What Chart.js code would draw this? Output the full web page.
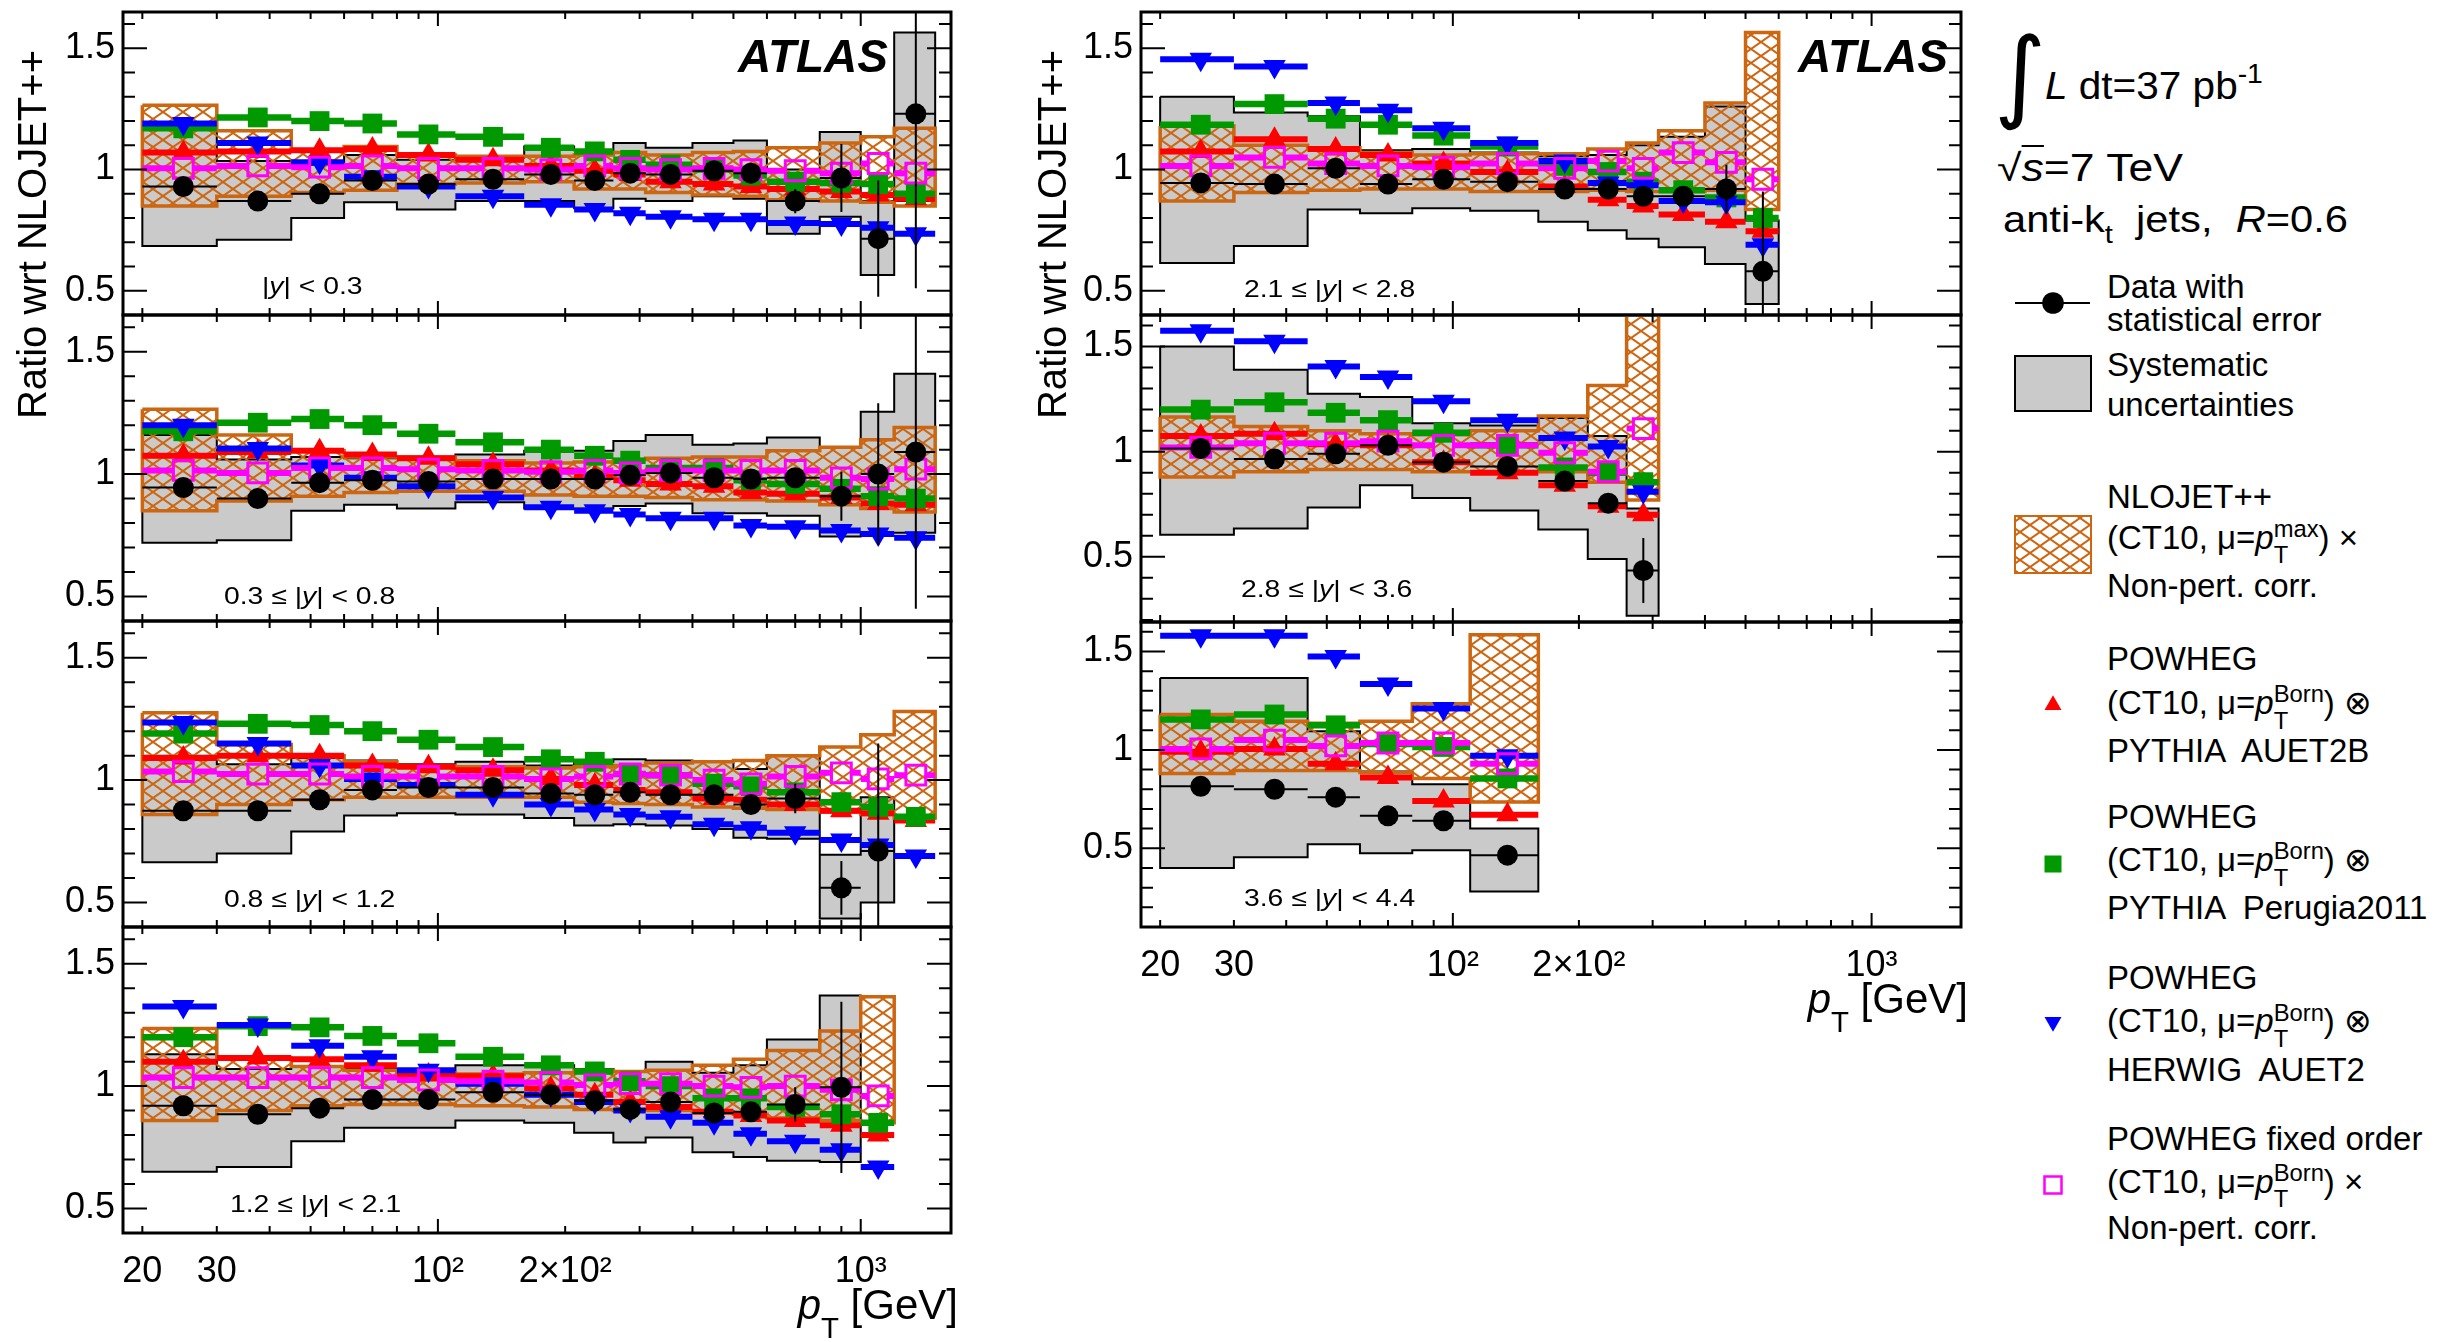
<!DOCTYPE html>
<html>
<head>
<meta charset="utf-8">
<script src="https://cdn.jsdelivr.net/npm/chart.js"></script>
<style>
html, body { margin: 0; padding: 0; background: #fff; }
body { position: relative; width: 2453px; height: 1342px; overflow: hidden;
       font-family: "Liberation Sans", Arial, Helvetica, sans-serif; color: #000; }
canvas { position: absolute; }
.t { position: absolute; white-space: pre; line-height: 1; transform-origin: 0 0; }
.sup { position: relative; top: -0.6em; font-size: 0.7em; }
.sub { position: relative; top: 0.45em; font-size: 0.7em; }
.st { display: inline-flex; flex-direction: column; font-size: 0.72em; line-height: 1.12; position: relative; top: -0.5em; }
.ov { border-top: 2px solid #000; }
</style>
</head>
<body>
<script>
// pT bins (GeV) shared by all rapidity slices
const ptEdges = [20, 30, 45, 60, 80, 110, 160, 210, 260, 310, 400, 500, 600, 800, 1000, 1200, 1500];
const xTickValues = [20, 30, 100, 200, 1000];
const xTickLabels = ['20', '30', '10²', '2×10²', '10³'];
const yTickValues = [0.5, 1, 1.5];
const xMinorTicks = [20, 30, 40, 50, 60, 70, 80, 90, 200, 300, 400, 500, 600, 700, 800, 900];
const xMajorTicks = [100, 1000];
const rapidityBins = ['|y| < 0.3', '0.3 ≤ |y| < 0.8', '0.8 ≤ |y| < 1.2', '1.2 ≤ |y| < 2.1',
                      '2.1 ≤ |y| < 2.8', '2.8 ≤ |y| < 3.6', '3.6 ≤ |y| < 4.4'];

// |y| < 0.3
const y1Data    = [0.93, 0.87, 0.90, 0.955, 0.94, 0.96, 0.98, 0.955, 0.985, 0.98, 0.995, 0.985, 0.87, 0.965, 0.715, 1.23];
const y1Stat    = [0.005, 0.005, 0.005, 0.005, 0.005, 0.005, 0.005, 0.007, 0.01, 0.01, 0.015, 0.02, 0.05, 0.14, 0.24, 0.72];
const y1SysLo   = [0.685, 0.71, 0.80, 0.865, 0.835, 0.87, 0.87, 0.84, 0.88, 0.87, 0.89, 0.88, 0.735, 0.805, 0.565, 0.87];
const y1SysHi   = [1.17, 1.035, 1.02, 1.06, 1.04, 1.05, 1.095, 1.08, 1.11, 1.09, 1.11, 1.12, 1.0, 1.155, 0.87, 1.565];
const y1NloLo   = [0.85, 0.89, 0.905, 0.915, 0.94, 0.945, 0.95, 0.92, 0.92, 0.905, 0.895, 0.89, 0.875, 0.87, 0.865, 0.85];
const y1NloHi   = [1.265, 1.16, 1.08, 1.095, 1.06, 1.055, 1.055, 1.06, 1.07, 1.06, 1.07, 1.075, 1.09, 1.11, 1.135, 1.17];
const y1Red     = [1.07, 1.075, 1.08, 1.085, 1.06, 1.04, 1.015, 0.995, 0.98, 0.95, 0.94, 0.93, 0.92, 0.91, 0.895, 0.88];
const y1Green   = [1.17, 1.215, 1.2, 1.19, 1.145, 1.135, 1.09, 1.075, 1.04, 1.02, 1.0, 0.975, 0.95, 0.945, 0.94, 0.9];
const y1Blue    = [1.19, 1.11, 1.03, 0.97, 0.93, 0.89, 0.855, 0.835, 0.82, 0.805, 0.795, 0.795, 0.78, 0.775, 0.76, 0.735];
const y1Magenta = [1.005, 1.015, 1.01, 1.015, 1.005, 1.005, 1.0, 1.015, 1.005, 1.0, 1.005, 1.0, 0.995, 0.985, 1.025, 0.985];

// 0.3 <= |y| < 0.8
const y2Data    = [0.945, 0.90, 0.965, 0.975, 0.97, 0.98, 0.98, 0.98, 0.995, 1.005, 0.985, 0.98, 0.985, 0.91, 1.0, 1.09];
const y2Stat    = [0.005, 0.005, 0.005, 0.005, 0.005, 0.005, 0.005, 0.007, 0.01, 0.01, 0.015, 0.02, 0.03, 0.1, 0.29, 0.64];
const y2SysLo   = [0.72, 0.73, 0.85, 0.875, 0.86, 0.885, 0.86, 0.86, 0.87, 0.88, 0.84, 0.84, 0.83, 0.745, 0.76, 0.76];
const y2SysHi   = [1.16, 1.06, 1.07, 1.065, 1.065, 1.08, 1.095, 1.095, 1.135, 1.16, 1.12, 1.125, 1.15, 1.11, 1.255, 1.41];
const y2NloLo   = [0.85, 0.89, 0.91, 0.925, 0.93, 0.93, 0.915, 0.91, 0.91, 0.905, 0.895, 0.895, 0.89, 0.875, 0.86, 0.845];
const y2NloHi   = [1.265, 1.16, 1.095, 1.07, 1.07, 1.055, 1.045, 1.05, 1.06, 1.065, 1.07, 1.07, 1.095, 1.11, 1.14, 1.19];
const y2Red     = [1.075, 1.09, 1.095, 1.08, 1.065, 1.04, 1.015, 0.99, 0.975, 0.96, 0.95, 0.925, 0.92, 0.905, 0.88, 0.875];
const y2Green   = [1.175, 1.21, 1.225, 1.2, 1.165, 1.13, 1.1, 1.075, 1.055, 1.025, 1.025, 0.975, 0.96, 0.94, 0.91, 0.9];
const y2Blue    = [1.2, 1.105, 1.035, 0.985, 0.95, 0.905, 0.865, 0.85, 0.835, 0.82, 0.82, 0.79, 0.785, 0.77, 0.755, 0.74];
const y2Magenta = [1.015, 1.005, 1.025, 1.025, 1.02, 1.015, 1.01, 1.015, 1.005, 1.015, 1.015, 1.015, 1.015, 0.985, 0.98, 1.02];

// 0.8 <= |y| < 1.2
const y3Data    = [0.875, 0.875, 0.92, 0.96, 0.97, 0.97, 0.945, 0.94, 0.95, 0.94, 0.94, 0.9, 0.925, 0.56, 0.71];
const y3Stat    = [0.005, 0.005, 0.005, 0.005, 0.005, 0.005, 0.006, 0.008, 0.01, 0.012, 0.015, 0.02, 0.06, 0.11, 0.44];
const y3SysLo   = [0.665, 0.70, 0.79, 0.855, 0.865, 0.86, 0.845, 0.815, 0.82, 0.815, 0.80, 0.765, 0.76, 0.435, 0.50];
const y3SysHi   = [1.10, 1.065, 1.09, 1.08, 1.065, 1.075, 1.06, 1.075, 1.085, 1.08, 1.075, 1.045, 1.10, 0.695, 0.93];
const y3NloLo   = [0.86, 0.90, 0.92, 0.93, 0.93, 0.93, 0.93, 0.91, 0.905, 0.9, 0.89, 0.885, 0.88, 0.87, 0.86, 0.845];
const y3NloHi   = [1.275, 1.145, 1.10, 1.075, 1.06, 1.055, 1.05, 1.055, 1.06, 1.07, 1.075, 1.08, 1.10, 1.135, 1.185, 1.28];
const y3Red     = [1.09, 1.10, 1.10, 1.06, 1.055, 1.04, 1.005, 0.98, 0.96, 0.95, 0.925, 0.92, 0.9, 0.875, 0.865, 0.835];
const y3Green   = [1.19, 1.23, 1.225, 1.2, 1.165, 1.135, 1.085, 1.075, 1.025, 1.02, 0.985, 0.975, 0.95, 0.91, 0.89, 0.85];
const y3Blue    = [1.235, 1.15, 1.06, 1.005, 0.98, 0.94, 0.9, 0.88, 0.86, 0.85, 0.82, 0.805, 0.785, 0.755, 0.735, 0.69];
const y3Magenta = [1.035, 1.025, 1.025, 1.015, 1.015, 1.015, 1.005, 1.015, 1.025, 1.02, 1.0, 0.985, 1.015, 1.03, 1.005, 1.02];

// 1.2 <= |y| < 2.1
const y4Data    = [0.92, 0.885, 0.91, 0.945, 0.945, 0.975, 0.965, 0.94, 0.905, 0.935, 0.89, 0.895, 0.925, 0.995];
const y4Stat    = [0.005, 0.005, 0.005, 0.005, 0.006, 0.006, 0.008, 0.01, 0.012, 0.015, 0.02, 0.03, 0.07, 0.35];
const y4SysLo   = [0.65, 0.67, 0.775, 0.83, 0.83, 0.86, 0.85, 0.81, 0.77, 0.79, 0.73, 0.71, 0.695, 0.69];
const y4SysHi   = [1.13, 1.07, 1.08, 1.07, 1.06, 1.085, 1.085, 1.07, 1.06, 1.10, 1.055, 1.085, 1.19, 1.37];
const y4NloLo   = [0.86, 0.9, 0.92, 0.925, 0.925, 0.92, 0.915, 0.905, 0.9, 0.9, 0.895, 0.885, 0.87, 0.86, 0.85];
const y4NloHi   = [1.235, 1.115, 1.08, 1.065, 1.055, 1.05, 1.055, 1.065, 1.06, 1.065, 1.085, 1.11, 1.145, 1.225, 1.365];
const y4Red     = [1.1, 1.115, 1.11, 1.085, 1.045, 1.04, 0.99, 0.965, 0.935, 0.915, 0.895, 0.88, 0.86, 0.84, 0.8];
const y4Green   = [1.2, 1.245, 1.24, 1.205, 1.175, 1.12, 1.085, 1.06, 1.02, 1.0, 0.95, 0.95, 0.915, 0.885, 0.85];
const y4Blue    = [1.325, 1.25, 1.165, 1.12, 1.065, 1.01, 0.965, 0.935, 0.9, 0.875, 0.85, 0.805, 0.775, 0.74, 0.67];
const y4Magenta = [1.035, 1.035, 1.035, 1.035, 1.025, 1.02, 1.015, 1.005, 1.01, 1.01, 1.0, 0.995, 1.0, 0.985, 0.96];

// 2.1 <= |y| < 2.8
const y5Data    = [0.945, 0.94, 1.005, 0.94, 0.96, 0.95, 0.92, 0.92, 0.89, 0.89, 0.92, 0.58];
const y5Stat    = [0.005, 0.005, 0.005, 0.005, 0.006, 0.007, 0.01, 0.012, 0.02, 0.03, 0.1, 0.33];
const y5SysLo   = [0.615, 0.685, 0.835, 0.82, 0.84, 0.83, 0.785, 0.75, 0.715, 0.68, 0.61, 0.445];
const y5SysHi   = [1.30, 1.235, 1.22, 1.08, 1.085, 1.07, 1.055, 1.06, 1.10, 1.135, 1.26, 0.79];
const y5NloLo   = [0.87, 0.905, 0.915, 0.92, 0.92, 0.91, 0.91, 0.915, 0.91, 0.91, 0.915, 0.835];
const y5NloHi   = [1.18, 1.10, 1.09, 1.07, 1.06, 1.065, 1.065, 1.085, 1.11, 1.16, 1.275, 1.565];
const y5Red     = [1.075, 1.125, 1.085, 1.06, 1.025, 0.99, 0.93, 0.875, 0.85, 0.815, 0.785, 0.745];
const y5Green   = [1.185, 1.27, 1.21, 1.185, 1.14, 1.095, 1.015, 0.99, 0.95, 0.915, 0.885, 0.8];
const y5Blue    = [1.455, 1.425, 1.275, 1.245, 1.17, 1.11, 1.035, 0.945, 0.935, 0.87, 0.865, 0.69];
const y5Magenta = [1.015, 1.05, 1.025, 1.015, 1.01, 1.025, 1.005, 1.035, 1.005, 1.07, 1.03, 0.96];

// 2.8 <= |y| < 3.6
const y6Data    = [1.015, 0.965, 0.99, 1.03, 0.95, 0.93, 0.86, 0.755, 0.435];
const y6Stat    = [0.005, 0.006, 0.008, 0.01, 0.012, 0.015, 0.02, 0.04, 0.155];
const y6SysLo   = [0.605, 0.635, 0.735, 0.84, 0.78, 0.72, 0.63, 0.49, 0.22];
const y6SysHi   = [1.5, 1.39, 1.275, 1.26, 1.135, 1.125, 1.16, 1.075, 0.73];
const y6NloLo   = [0.88, 0.905, 0.915, 0.915, 0.905, 0.905, 0.905, 0.855, 0.77];
const y6NloHi   = [1.165, 1.12, 1.1, 1.085, 1.08, 1.1, 1.17, 1.315, 1.7];
const y6Red     = [1.075, 1.085, 1.035, 1.03, 0.95, 0.9, 0.84, 0.74, 0.7];
const y6Green   = [1.2, 1.235, 1.185, 1.15, 1.09, 1.03, 0.925, 0.9, 0.855];
const y6Blue    = [1.575, 1.525, 1.405, 1.355, 1.24, 1.15, 1.065, 1.025, 0.81];
const y6Magenta = [1.02, 1.04, 1.04, 1.05, 1.03, 1.03, 0.995, 0.905, 1.11];

// 3.6 <= |y| < 4.4
const y7Data    = [0.815, 0.80, 0.76, 0.665, 0.64, 0.465];
const y7Stat    = [0.005, 0.006, 0.01, 0.012, 0.015, 0.03];
const y7SysLo   = [0.40, 0.455, 0.52, 0.475, 0.49, 0.28];
const y7SysHi   = [1.365, 1.365, 1.095, 0.89, 0.825, 0.6];
const y7NloLo   = [0.88, 0.895, 0.895, 0.885, 0.855, 0.735];
const y7NloHi   = [1.18, 1.145, 1.135, 1.145, 1.235, 1.585];
const y7Red     = [0.99, 1.005, 0.93, 0.86, 0.74, 0.67];
const y7Green   = [1.155, 1.18, 1.125, 1.03, 1.015, 0.855];
const y7Blue    = [1.58, 1.58, 1.475, 1.335, 1.21, 0.97];
const y7Magenta = [1.005, 1.05, 1.02, 1.035, 1.035, 0.93];

const panelData = [
  {data: y1Data, stat: y1Stat, sysLo: y1SysLo, sysHi: y1SysHi, nloLo: y1NloLo, nloHi: y1NloHi, red: y1Red, green: y1Green, blue: y1Blue, magenta: y1Magenta},
  {data: y2Data, stat: y2Stat, sysLo: y2SysLo, sysHi: y2SysHi, nloLo: y2NloLo, nloHi: y2NloHi, red: y2Red, green: y2Green, blue: y2Blue, magenta: y2Magenta},
  {data: y3Data, stat: y3Stat, sysLo: y3SysLo, sysHi: y3SysHi, nloLo: y3NloLo, nloHi: y3NloHi, red: y3Red, green: y3Green, blue: y3Blue, magenta: y3Magenta},
  {data: y4Data, stat: y4Stat, sysLo: y4SysLo, sysHi: y4SysHi, nloLo: y4NloLo, nloHi: y4NloHi, red: y4Red, green: y4Green, blue: y4Blue, magenta: y4Magenta},
  {data: y5Data, stat: y5Stat, sysLo: y5SysLo, sysHi: y5SysHi, nloLo: y5NloLo, nloHi: y5NloHi, red: y5Red, green: y5Green, blue: y5Blue, magenta: y5Magenta},
  {data: y6Data, stat: y6Stat, sysLo: y6SysLo, sysHi: y6SysHi, nloLo: y6NloLo, nloHi: y6NloHi, red: y6Red, green: y6Green, blue: y6Blue, magenta: y6Magenta},
  {data: y7Data, stat: y7Stat, sysLo: y7SysLo, sysHi: y7SysHi, nloLo: y7NloLo, nloHi: y7NloHi, red: y7Red, green: y7Green, blue: y7Blue, magenta: y7Magenta},
];

// frame of each pad on the page, plus its y range
const layout = [
  {x0: 123, x1: 958, y0: 12, y1: 315, yMin: 0.4, yMax: 1.65},
  {x0: 123, x1: 958, y0: 315, y1: 621, yMin: 0.4, yMax: 1.65},
  {x0: 123, x1: 958, y0: 621, y1: 927, yMin: 0.4, yMax: 1.65},
  {x0: 123, x1: 958, y0: 927, y1: 1233, yMin: 0.4, yMax: 1.65, bottom: true},
  {x0: 1141, x1: 1968, y0: 12, y1: 315, yMin: 0.4, yMax: 1.65},
  {x0: 1141, x1: 1968, y0: 315, y1: 622, yMin: 0.19, yMax: 1.65},
  {x0: 1141, x1: 1968, y0: 622, y1: 927, yMin: 0.1, yMax: 1.65, bottom: true},
];
const labelPos = [[262, 294], [224, 604], [224, 907], [230, 1212], [1244, 297], [1241, 597], [1244, 906]];

const ORANGE = '#cc6611';
const GREY = '#cacaca';
const FONT = "'Liberation Sans', Arial, Helvetica, sans-serif";

const mcStyles = [
  {key: 'red', color: '#ff0000', style: 'triangle', r: 13, rot: 0, fill: '#ff0000', bw: 0, lw: 6},
  {key: 'green', color: '#009900', style: 'rect', r: 14, rot: 0, fill: '#009900', bw: 0, lw: 6.5},
  {key: 'blue', color: '#0000ff', style: 'triangle', r: 13, rot: 180, fill: '#0000ff', bw: 0, lw: 6},
  {key: 'magenta', color: '#ff00ff', style: 'rect', r: 14, rot: 0, fill: 'rgba(0,0,0,0)', bw: 3, lw: 6, gap: 1.055},
];

// cross hatch for the NLOJET++ band
const hatch = (function () {
  const c = document.createElement('canvas');
  c.width = 20; c.height = 14;
  const g = c.getContext('2d');
  g.strokeStyle = ORANGE;
  g.lineWidth = 2;
  g.beginPath();
  g.moveTo(-10, -7); g.lineTo(30, 21);
  g.moveTo(-10, 21); g.lineTo(30, -7);
  g.stroke();
  return g.createPattern(c, 'repeat');
})();

function binCentres(n) {
  return ptEdges.slice(0, n).map((e, i) => (e + ptEdges[i + 1]) / 2);
}

// closed step outline: upper edge left->right, lower edge right->left
function bandPolygon(lo, hi) {
  const pts = [];
  hi.forEach((v, i) => { pts.push({x: ptEdges[i], y: v}, {x: ptEdges[i + 1], y: v}); });
  for (let i = lo.length - 1; i >= 0; i--) {
    pts.push({x: ptEdges[i + 1], y: lo[i]}, {x: ptEdges[i], y: lo[i]});
  }
  pts.push({x: ptEdges[0], y: hi[0]});
  return pts;
}

// one horizontal segment per bin, broken with nulls
function binLines(vals, gap) {
  const pts = [];
  vals.forEach((v, i) => {
    const a = ptEdges[i], b = ptEdges[i + 1];
    if (gap) {
      const c = (a + b) / 2;
      pts.push({x: a, y: v}, {x: c / gap, y: v}, {x: c / gap, y: null},
               {x: c * gap, y: v}, {x: b, y: v}, {x: b, y: null});
    } else {
      pts.push({x: a, y: v}, {x: b, y: v}, {x: b, y: null});
    }
  });
  return pts;
}

function errorLines(vals, errs) {
  const c = binCentres(vals.length);
  const pts = [];
  vals.forEach((v, i) => {
    pts.push({x: ptEdges[i], y: v}, {x: ptEdges[i + 1], y: v}, {x: ptEdges[i + 1], y: null});
    pts.push({x: c[i], y: v - errs[i]}, {x: c[i], y: v + errs[i]}, {x: c[i], y: null});
  });
  return pts;
}

const frameTicks = {
  id: 'frameTicks',
  afterDatasetsDraw(chart) {
    const {ctx, chartArea: a, scales: {x, y}} = chart;
    ctx.save();
    ctx.strokeStyle = '#000';
    ctx.lineWidth = 2;
    ctx.beginPath();
    for (let k = Math.ceil(y.min * 10 - 1e-6); k <= Math.floor(y.max * 10 + 1e-6); k++) {
      const py = y.getPixelForValue(k / 10);
      const len = k % 5 === 0 ? 24 : 12;
      ctx.moveTo(a.left, py); ctx.lineTo(a.left + len, py);
      ctx.moveTo(a.right, py); ctx.lineTo(a.right - len, py);
    }
    const xt = (vals, len) => vals.forEach(v => {
      const px = x.getPixelForValue(v);
      ctx.moveTo(px, a.bottom); ctx.lineTo(px, a.bottom - len);
      ctx.moveTo(px, a.top); ctx.lineTo(px, a.top + len);
    });
    xt(xMinorTicks, 7);
    xt(xMajorTicks, 14);
    ctx.stroke();
    ctx.lineWidth = 3;
    ctx.strokeRect(a.left, a.top, a.right - a.left, a.bottom - a.top);
    ctx.restore();
  }
};

function makePanel(p, L) {
  const padL = 120, padR = 10, padT = 40, padB = 40;
  const axisH = L.bottom ? 80 : 0;
  const cv = document.createElement('canvas');
  cv.width = (L.x1 - L.x0) + padL + padR;
  cv.height = (L.y1 - L.y0) + padT + padB + axisH;
  cv.style.left = (L.x0 - padL) + 'px';
  cv.style.top = (L.y0 - padT) + 'px';
  document.body.appendChild(cv);

  const ds = [];
  ds.push({data: bandPolygon(p.sysLo, p.sysHi), borderColor: '#000', borderWidth: 2,
           backgroundColor: GREY, fill: 'shape', pointRadius: 0, order: 20});
  ds.push({data: bandPolygon(p.nloLo, p.nloHi), borderColor: ORANGE, borderWidth: 3.5,
           backgroundColor: hatch, fill: 'shape', pointRadius: 0, order: 19});
  mcStyles.forEach((s, k) => {
    const vals = p[s.key];
    const c = binCentres(vals.length);
    ds.push({data: binLines(vals, s.gap), borderColor: s.color, borderWidth: s.lw,
             borderCapStyle: 'butt', pointRadius: 0, order: 18 - 2 * k});
    ds.push({data: vals.map((v, i) => ({x: c[i], y: v})), showLine: false,
             pointStyle: s.style, pointRadius: s.r, pointRotation: s.rot,
             pointBackgroundColor: s.fill, pointBorderColor: s.color, pointBorderWidth: s.bw,
             order: 17 - 2 * k});
  });
  const c = binCentres(p.data.length);
  ds.push({data: errorLines(p.data, p.stat), borderColor: '#000', borderWidth: 2,
           borderCapStyle: 'butt', pointRadius: 0, order: 10});
  ds.push({data: p.data.map((v, i) => ({x: c[i], y: v})), showLine: false,
           pointStyle: 'circle', pointRadius: 10.5, pointBackgroundColor: '#000',
           pointBorderWidth: 0, order: 9});

  new Chart(cv, {
    type: 'line',
    data: {datasets: ds},
    options: {
      responsive: false,
      animation: false,
      devicePixelRatio: 1,
      layout: {padding: {left: 0, right: padR, top: padT, bottom: padB}},
      plugins: {legend: {display: false}, tooltip: {enabled: false}},
      elements: {line: {tension: 0, fill: false}},
      scales: {
        x: {
          type: 'logarithmic', min: 18, max: 1635,
          grid: {display: false, drawTicks: false}, border: {display: false},
          afterBuildTicks: s => { s.ticks = xTickValues.map(v => ({value: v})); },
          afterFit: s => { s.height = axisH; },
          ticks: {display: !!L.bottom, autoSkip: false, maxRotation: 0, minRotation: 0,
                  padding: 17, color: '#000', font: {family: FONT, size: 36},
                  callback: v => { const i = xTickValues.indexOf(v); return i < 0 ? '' : xTickLabels[i]; }}
        },
        y: {
          min: L.yMin, max: L.yMax,
          grid: {display: false, drawTicks: false}, border: {display: false},
          afterBuildTicks: s => { s.ticks = yTickValues.map(v => ({value: v})); },
          afterFit: s => { s.width = padL; },
          ticks: {padding: 8, color: '#000', font: {family: FONT, size: 36},
                  callback: v => String(v)}
        }
      }
    },
    plugins: [frameTicks]
  });
}

panelData.forEach((p, i) => makePanel(p, layout[i]));

// ---- text on the page ----
function text(html, x, base, size, extra) {
  const d = document.createElement('div');
  d.className = 't';
  d.innerHTML = html;
  d.style.left = x + 'px';
  d.style.top = (base - 0.8465 * size) + 'px';
  d.style.fontSize = size + 'px';
  if (extra) Object.assign(d.style, extra);
  document.body.appendChild(d);
  return d;
}
// stretch a line horizontally so that it ends at xRight
function fitTo(d, xLeft, xRight) {
  const w = d.getBoundingClientRect().width;
  if (w > 0) d.style.transform = 'scaleX(' + ((xRight - xLeft) / w).toFixed(3) + ')';
}

rapidityBins.forEach((r, i) => {
  text(r.replace('|y|', '|<i>y</i>|'), labelPos[i][0], labelPos[i][1], 24, {transform: 'scaleX(1.18)'});
});

text('ATLAS', 588, 72, 46, {width: '300px', textAlign: 'right', fontWeight: 'bold', fontStyle: 'italic'});
text('ATLAS', 1648, 72, 46, {width: '300px', textAlign: 'right', fontWeight: 'bold', fontStyle: 'italic'});

// axis titles
[32, 1052].forEach(cx => {
  const d = text('Ratio wrt NLOJET++', cx - 210, 0, 40,
                 {width: '420px', textAlign: 'right', transformOrigin: '50% 50%', transform: 'rotate(-90deg)'});
  d.style.top = (260 - 20) + 'px';
});
const ptTitle = '<i>p</i><span style="position:relative;top:0.62em;font-size:0.7em">T</span> [GeV]';
text(ptTitle, 658, 1320, 42, {width: '300px', textAlign: 'right'});
text(ptTitle, 1668, 1014, 42, {width: '300px', textAlign: 'right'});

// ---- legend ----
text('∫', 1994, 110, 100, {fontFamily: "'DejaVu Sans', sans-serif"});
fitTo(text('<i>L</i> dt=37 pb<span class="sup">-1</span>', 2045, 99, 39), 2045, 2263);
fitTo(text('√<span class="ov"><i>s</i></span>=7 TeV', 1997, 181, 38), 1997, 2183);
fitTo(text('anti-k<span class="sub">t</span>  jets,  <i>R</i>=0.6', 2003, 232, 36), 2003, 2348);

const bornLine = '(CT10, μ=<i>p</i><span class="st"><span>Born</span><span>T</span></span>)';
const maxLine = '(CT10, μ=<i>p</i><span class="st"><span>max</span><span>T</span></span>) ×';
const legendLines = [
  ['Data with', 297.5], ['statistical error', 331], ['Systematic', 375.5], ['uncertainties', 415.6],
  ['NLOJET++', 508], [maxLine, 548.5], ['Non-pert. corr.', 597],
  ['POWHEG', 669.5], [bornLine + ' ⊗', 713.8], ['PYTHIA  AUET2B', 762.4],
  ['POWHEG', 827.8], [bornLine + ' ⊗', 871.2], ['PYTHIA  Perugia2011', 918.5],
  ['POWHEG', 989.4], [bornLine + ' ⊗', 1032.4], ['HERWIG  AUET2', 1081],
  ['POWHEG fixed order', 1149.7], [bornLine + ' ×', 1192.7], ['Non-pert. corr.', 1239]
];
legendLines.forEach(([h, b]) => text(h, 2107, b, 33));

(function legendSymbols() {
  const ox = 2000, oy = 280;
  const cv = document.createElement('canvas');
  cv.width = 110; cv.height = 940;
  cv.style.left = ox + 'px'; cv.style.top = oy + 'px';
  document.body.appendChild(cv);
  const g = cv.getContext('2d');
  g.translate(-ox, -oy);
  g.strokeStyle = '#000'; g.fillStyle = '#000'; g.lineWidth = 2;
  g.beginPath(); g.moveTo(2015, 303); g.lineTo(2090, 303); g.stroke();
  g.beginPath(); g.arc(2053, 303, 10.8, 0, 2 * Math.PI); g.fill();
  g.fillStyle = GREY; g.fillRect(2015, 356, 76, 55); g.strokeRect(2015, 356, 76, 55);
  g.fillStyle = hatch; g.fillRect(2015, 516, 76, 57);
  g.strokeStyle = ORANGE; g.strokeRect(2015, 516, 76, 57);
  const tri = (cx, cy, r, down, col) => {
    const s = down ? -1 : 1;
    g.fillStyle = col; g.beginPath();
    g.moveTo(cx, cy - s * r); g.lineTo(cx + r * 0.866, cy + s * r / 2); g.lineTo(cx - r * 0.866, cy + s * r / 2);
    g.closePath(); g.fill();
  };
  tri(2053, 705, 9.8, false, '#ff0000');
  g.fillStyle = '#009900'; g.fillRect(2044.5, 855.5, 17, 17);
  tri(2053, 1022, 9.8, true, '#0000ff');
  g.strokeStyle = '#ff00ff'; g.lineWidth = 2.5; g.strokeRect(2044.5, 1176.5, 17, 17);
})();
</script>
</body>
</html>
